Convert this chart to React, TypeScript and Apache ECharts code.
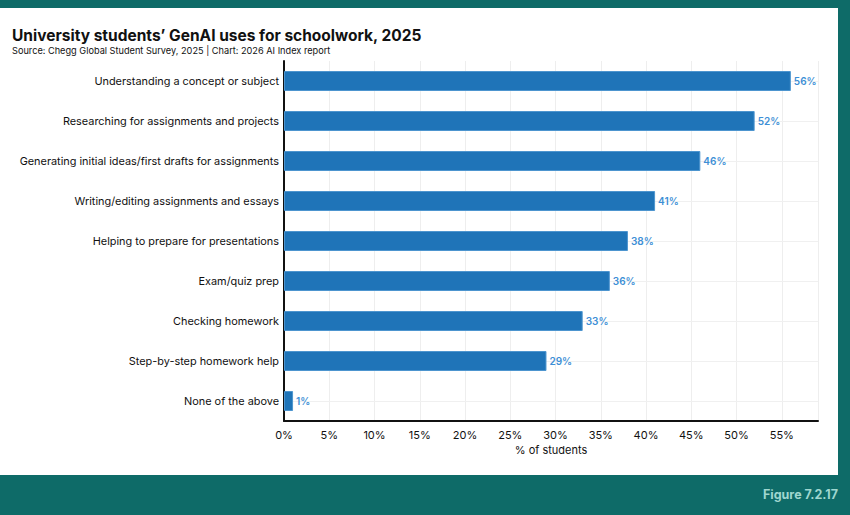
import React, { useEffect, useRef } from "react";
import * as echarts from "echarts";

const categories = [
  "Understanding a concept or subject",
  "Researching for assignments and projects",
  "Generating initial ideas/first drafts for assignments",
  "Writing/editing assignments and essays",
  "Helping to prepare for presentations",
  "Exam/quiz prep",
  "Checking homework",
  "Step-by-step homework help",
  "None of the above",
];
const values = [56, 52, 46, 41, 38, 36, 33, 29, 1];

const FONT = "Inter, 'Noto Sans', sans-serif";

export default function App() {
  const ref = useRef<HTMLDivElement>(null);
  useEffect(() => {
    if (!ref.current) return;
    const chart = echarts.init(ref.current, null, { renderer: "svg" });
    chart.setOption({
      animation: false,
      backgroundColor: "#0e6b68",
      textStyle: { fontFamily: FONT },
      graphic: [
        {
          type: "rect",
          z: -10,
          silent: true,
          shape: { x: 0, y: 8, width: 838, height: 467 },
          style: { fill: "#ffffff" },
        },
        {
          type: "text",
          left: 12,
          top: 27,
          style: {
            text: "University students\u2019 GenAI uses for schoolwork, 2025",
            fontSize: 15.5,
            fontWeight: "bold",
            fill: "#111",
            fontFamily: FONT,
          },
        },
        {
          type: "text",
          left: 12,
          top: 46,
          style: {
            text: "Source: Chegg Global Student Survey, 2025 | Chart: 2026 AI Index report",
            fontSize: 9.2,
            fill: "#111",
            fontFamily: FONT,
          },
        },
        {
          type: "text",
          right: 12,
          top: 488,
          style: {
            text: "Figure 7.2.17",
            fontSize: 12.5,
            fontWeight: "bold",
            fill: "#9fd6cf",
            fontFamily: FONT,
          },
        },
      ],
      grid: { left: 284, right: 32, top: 61, bottom: 94, containLabel: false },
      xAxis: {
        type: "value",
        min: 0,
        max: 59,
        interval: 5,
        name: "% of students",
        nameLocation: "middle",
        nameGap: 22,
        nameTextStyle: { fontSize: 11, color: "#111", fontFamily: FONT },
        axisLine: { show: true, lineStyle: { color: "#111", width: 2 } },
        axisTick: { show: false },
        axisLabel: {
          formatter: "{value}%",
          fontSize: 11,
          color: "#111",
          margin: 8,
          showMaxLabel: false,
        },
        splitLine: { show: true, lineStyle: { color: "#eeeeee", width: 1 } },
      },
      yAxis: {
        type: "category",
        data: categories,
        inverse: true,
        axisLine: { show: true, lineStyle: { color: "#111", width: 2 } },
        axisTick: { show: false },
        axisLabel: { fontSize: 10.9, color: "#111", margin: 5 },
        splitLine: { show: false },
      },
      series: [
        {
          type: "bar",
          data: values,
          barWidth: 20,
          itemStyle: { color: "#1f74b8", borderColor: "#4d95cf", borderWidth: 1 },
          label: {
            show: true,
            position: "right",
            distance: 3,
            formatter: "{c}%",
            fontSize: 10,
            fontWeight: 600,
            color: "#3d8fd6",
          },
          markLine: {
            silent: true,
            symbol: "none",
            label: { show: false },
            lineStyle: { color: "#f0f0f0", width: 1, type: "solid" },
            z: 0,
            data: categories.map((c) => ({ yAxis: c })),
          },
        },
      ],
    });
    return () => chart.dispose();
  }, []);
  return (
    <div
      ref={ref}
      style={{ position: "fixed", left: 0, top: 0, width: 850, height: 515 }}
    />
  );
}
